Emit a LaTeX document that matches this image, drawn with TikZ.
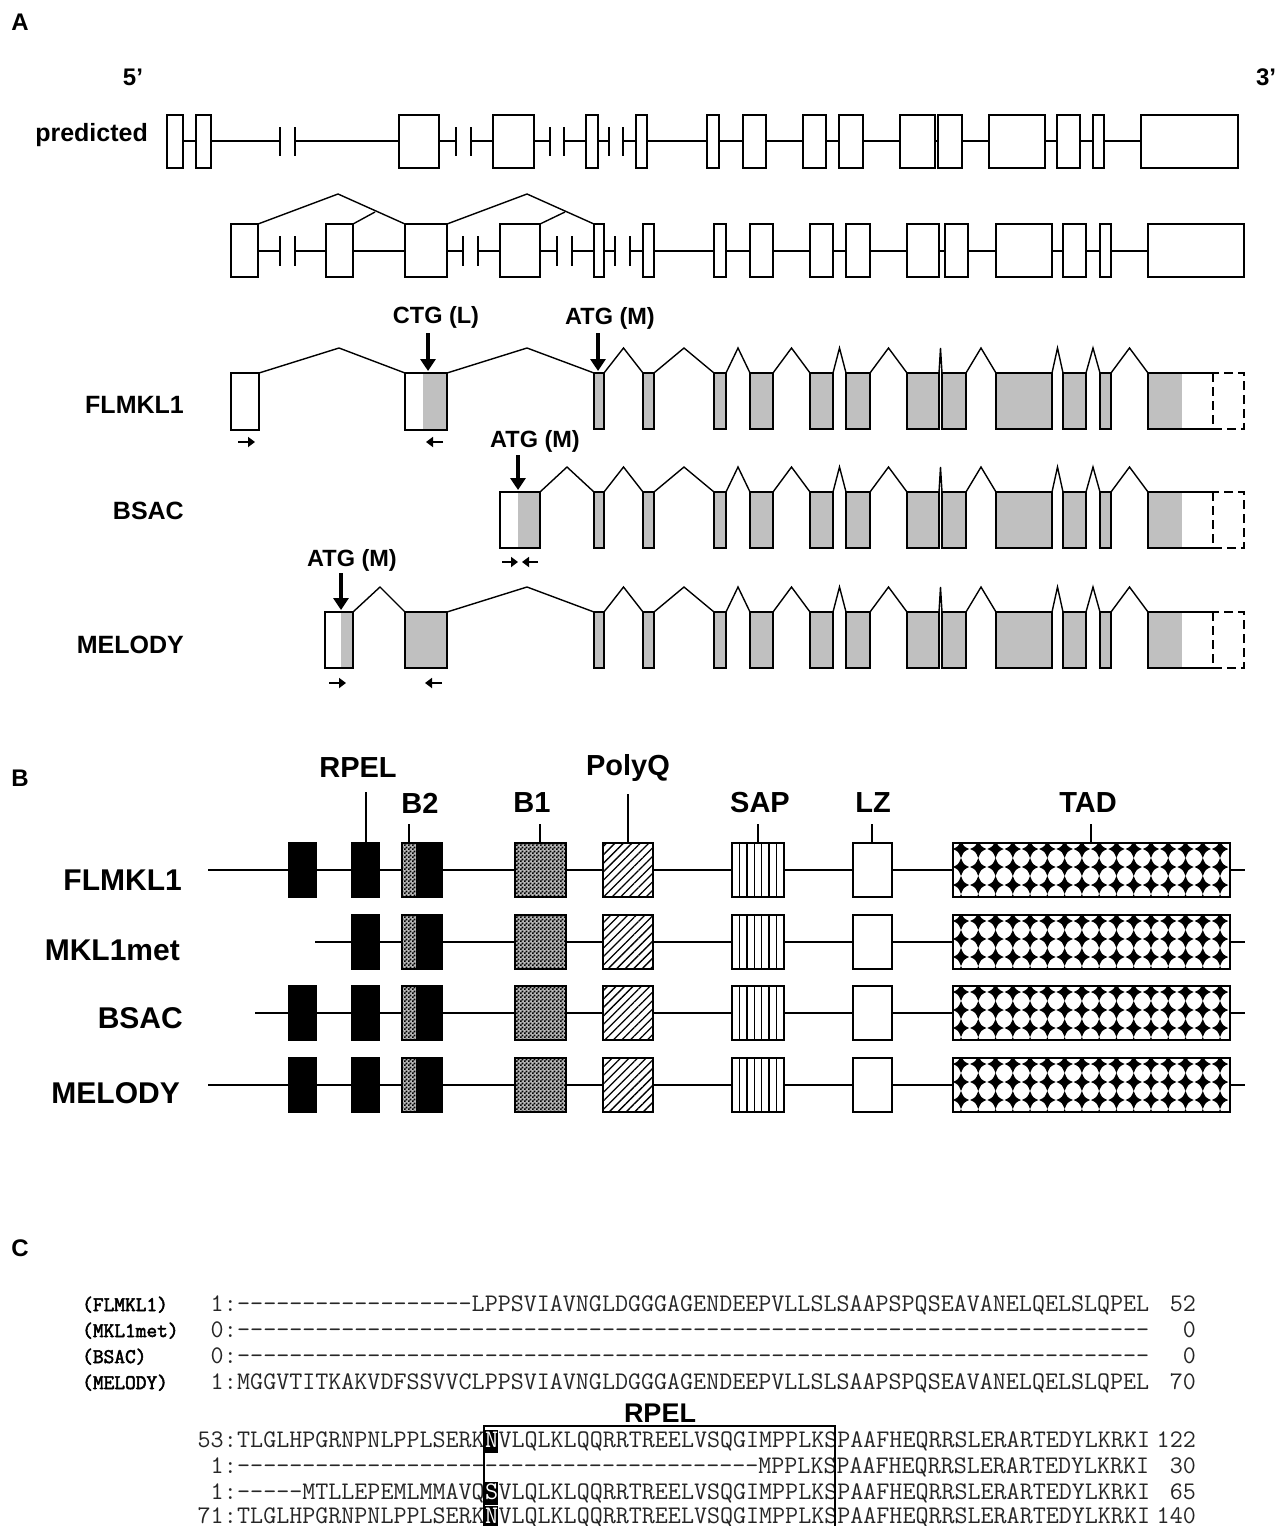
\documentclass[tikz,border=0pt]{standalone}
\usepackage{fontspec}
\setmainfont{Liberation Sans}
\newfontfamily\namefont{Latin Modern Mono}[FakeBold=2.5]
\usetikzlibrary{arrows.meta, positioning, patterns, patterns.meta}
\definecolor{cdsgray}{RGB}{192,192,192}
\ExplSyntaxOn
\NewDocumentCommand\dashrun{m}{\prg_replicate:nn{#1}{-{}}}
\ExplSyntaxOff
\pgfdeclarepatternformonly{finecheck}{\pgfqpoint{0pt}{0pt}}{\pgfqpoint{4pt}{4pt}}{\pgfqpoint{4pt}{4pt}}{%
  \pgfpathrectangle{\pgfqpoint{0pt}{0pt}}{\pgfqpoint{2pt}{2pt}}%
  \pgfpathrectangle{\pgfqpoint{2pt}{2pt}}{\pgfqpoint{2pt}{2pt}}%
  \pgfusepath{fill}}
\tikzset{
  outline/.style={draw, line width=2.4pt},
  exon/.style={outline, fill=white},
  intron/.style={line width=2pt},
  splice/.style={line width=1.4pt},
  brk/.style={line width=2.4pt},
  startarr/.style={-{Triangle[length=12pt,width=15pt]}, line width=4pt},
  primer/.style={-{Triangle[length=7pt,width=10pt]}, line width=2.6pt},
  panel/.style={font=\fontsize{24}{28}\selectfont\bfseries, inner sep=0pt},
  lab/.style={font=\fontsize{25}{30}\selectfont\bfseries, inner sep=0pt, anchor=east},
  sitelab/.style={font=\fontsize{23.5}{28}\selectfont\bfseries, inner sep=0pt},
  domlab/.style={font=\fontsize{29}{34}\selectfont\bfseries, inner sep=0pt},
  protlab/.style={font=\fontsize{30}{36}\selectfont\bfseries, inner sep=0pt, anchor=east},
  dom/.style={draw, line width=2.2pt, preaction={fill=white}},
  domline/.style={draw, line width=2.2pt},
  checkfill/.style={fill=gray!55, postaction={pattern=finecheck}},
  pline/.style={line width=2pt},
  seq/.style={font=\fontsize{25.3}{28}\selectfont\ttfamily, text=black!85, inner sep=0pt, anchor=base west},
  seqnum/.style={seq, anchor=base east},
  seqhl/.style={seq, fill=black, text=white, text height=17pt, text depth=6pt},
  seqname/.style={font=\fontsize{20.8}{24}\selectfont\namefont, inner sep=0pt, anchor=base west},
}

\begin{document}
\begin{tikzpicture}[x=1pt, y=-1pt]
  \fill[white] (0,0) rectangle (1278,1526);
  \useasboundingbox (0,0) rectangle (1278,1526);

  % ---------------- A: gene structure
  \node[panel] (pa) at (20,22) {A};
  \node[panel] (five) at (133,77) {5’};
  \node[panel] (three) at (1266,77) {3’};

  % predicted
  \node[lab] (lpred) at (148,135) {predicted};
  \foreach \xa/\xb in {183/280,295/456,471/550,564/609,623/1141}
    \draw[intron] (\xa,141) -- (\xb,141);
  \foreach \xa/\xb in {167/183,196/211,399/439,493/534,586/598,636/647,707/719,743/766,803/826,839/863,900/935,938/962,989/1045,1057/1080,1093/1104,1141/1238}
    \draw[exon] (\xa,115) rectangle (\xb,168);
  \foreach \x in {280,295,456,471,550,564,609,623}
    \draw[brk] (\x,127) -- (\x,156);

  % alternative first exons
  \foreach \xa/\xb in {258/280,295/463,478/557,572/615,630/1148}
    \draw[intron] (\xa,251) -- (\xb,251);
  \foreach \xa/\xb in {231/258,326/353,405/447,500/540,594/604,643/654,714/726,750/773,810/833,846/870,907/939,945/968,996/1052,1063/1086,1100/1111,1148/1244}
    \draw[exon] (\xa,224) rectangle (\xb,277);
  \foreach \x in {280,295,463,478,557,572,615,630}
    \draw[brk] (\x,236) -- (\x,266);
  \draw[splice] (258,224) -- (338,194) -- (405,224);
  \draw[splice] (353,224) -- (375,212);
  \draw[splice] (447,224) -- (527,194) -- (594,224);
  \draw[splice] (540,224) -- (565,212);

  % shared 3' part of the transcripts
  \foreach \yt in {373,492,612}{
    \foreach \xa/\xb in {594/604,643/654,714/726,750/773,810/833,846/870,907/939,942/966,996/1052,1063/1086,1100/1111}
      \draw[outline, fill=cdsgray] (\xa,\yt) rectangle (\xb,\yt+56);
    \foreach \xa/\xb in {604/643,654/714,726/750,773/810,833/846,870/907,939/942,966/996,1052/1063,1086/1100,1111/1148}
      \draw[splice] (\xa,\yt) -- ({(\xa+\xb)/2},\yt-25) -- (\xb,\yt);
    \fill[cdsgray] (1148,\yt) rectangle (1182,\yt+56);
    \draw[outline] (1213,\yt) -- (1148,\yt) -- (1148,\yt+56) -- (1213,\yt+56);
    \draw[outline, dash pattern=on 9pt off 5pt] (1213,\yt) rectangle (1244,\yt+56);
  }

  % FLMKL1
  \node[lab] (lfl) at (184,405) {FLMKL1};
  \draw[exon] (231,373) rectangle (259,430);
  \fill[cdsgray] (423,373) rectangle (447,430);
  \draw[outline] (405,373) rectangle (447,430);
  \draw[splice] (259,373) -- (339,348) -- (405,373);
  \draw[splice] (447,373) -- (527,348) -- (594,373);
  \node[sitelab] (ctg) at (436,317) {CTG (L)};
  \draw[startarr] (428,333) -- (428,371);
  \node[sitelab] (atg1) at (610,318) {ATG (M)};
  \draw[startarr] (598,333) -- (598,371);
  \draw[primer] (238,442) -- (255,442);
  \draw[primer] (443,442) -- (426,442);

  % BSAC
  \node[lab] (lbs) at (184,511) {BSAC};
  \fill[cdsgray] (518,492) rectangle (540,548);
  \draw[outline] (500,492) rectangle (540,548);
  \draw[splice] (540,492) -- (567,467) -- (594,492);
  \node[sitelab] (atg2) at (535,441) {ATG (M)};
  \draw[startarr] (518,455) -- (518,490);
  \draw[primer] (502,562) -- (518,562);
  \draw[primer] (538,562) -- (522,562);

  % MELODY
  \node[lab] (lme) at (184,645) {MELODY};
  \fill[cdsgray] (341,612) rectangle (353,668);
  \draw[outline] (325,612) rectangle (353,668);
  \draw[outline, fill=cdsgray] (405,612) rectangle (447,668);
  \draw[splice] (353,612) -- (380,587) -- (405,612);
  \draw[splice] (447,612) -- (527,587) -- (594,612);
  \node[sitelab] (atg3) at (352,560) {ATG (M)};
  \draw[startarr] (341,573) -- (341,610);
  \draw[primer] (329,683) -- (346,683);
  \draw[primer] (442,683) -- (425,683);

  % ---------------- B: protein domains
  \node[panel] (pb) at (20,778) {B};
  \node[domlab] (drpel) at (358,768) {RPEL};
  \node[domlab] (db2) at (420,803) {B2};
  \node[domlab] (db1) at (532,803) {B1};
  \node[domlab] (dpq) at (628,768) {PolyQ};
  \node[domlab] (dsap) at (760,803) {SAP};
  \node[domlab] (dlz) at (873,803) {LZ};
  \node[domlab] (dtad) at (1088,803) {TAD};
  \draw[pline] (366,792) -- (366,843);
  \foreach \x in {409,540,758,872,1091}
    \draw[pline] (\x,824) -- (\x,843);
  \draw[pline] (628,794) -- (628,843);

  \node[protlab] (pfl) at (182,880) {FLMKL1};
  \node[protlab] (pmet) at (180,950) {MKL1met};
  \node[protlab] (pbs) at (183,1018) {BSAC};
  \node[protlab] (pme) at (180,1093) {MELODY};

  \foreach \yc/\xs/\full in {870/208/1,942/315/0,1013/255/1,1085/208/1}{
    \draw[pline] (\xs,\yc) -- (1245,\yc);
    \ifnum\full=1 \draw[dom, fill=black] (289,\yc-27) rectangle (316,\yc+27); \fi
    \draw[dom, fill=black] (352,\yc-27) rectangle (379,\yc+27);
    \fill[black] (416,\yc-27) rectangle (442,\yc+27);
    \fill[checkfill] (402,\yc-27) rectangle (416,\yc+27);
    \draw[domline] (402,\yc-27) rectangle (442,\yc+27);
    \fill[checkfill] (515,\yc-27) rectangle (566,\yc+27);
    \draw[domline] (515,\yc-27) rectangle (566,\yc+27);
    \draw[dom, pattern={Lines[angle=45, distance=6pt, line width=1.3pt]}] (603,\yc-27) rectangle (653,\yc+27);
    \draw[dom] (732,\yc-27) rectangle (784,\yc+27);
    \foreach \k in {1,...,6}
      \draw[line width=1.5pt] (732+\k*7.43,\yc-27) -- (732+\k*7.43,\yc+27);
    \draw[dom] (853,\yc-27) rectangle (892,\yc+27);
    \draw[dom] (953,\yc-27) rectangle (1230,\yc+27);
    \begin{scope}
      \clip (953,\yc-27) rectangle (1230,\yc+27);
      \foreach \i in {0,...,15}
        \foreach \j in {0,...,3}
          \fill[shift={({961+\i*17.27},{\yc-21+\j*18})}] (0,-9) .. controls (2.6,-2.6) .. (8.2,0) .. controls (2.6,2.6) .. (0,9) .. controls (-2.6,2.6) .. (-8.2,0) .. controls (-2.6,-2.6) .. cycle;
    \end{scope}
    \draw[line width=2.2pt] (953,\yc-27) rectangle (1230,\yc+27);
  }

  % ---------------- C: alignment
  \node[panel] (pc) at (20,1248) {C};

  \node[seqname] (nfl) at (82,1311) {(FLMKL1)};
  \node[seqname] (nmet) at (82,1337) {(MKL1met)};
  \node[seqname] (nbs) at (82,1363) {(BSAC)};
  \node[seqname] (nme) at (82,1389) {(MELODY)};

  \node[seqnum] (sfl) at (237,1311) {1:};
  \node[seq] (qfl) at (sfl.base east) {\dashrun{18}LPPSVIAVNGLDGGGAGENDEEPVLLSLSAAPSPQSEAVANELQELSLQPEL};
  \node[seqnum] (efl) at (1196,1311) {52};
  \node[seqnum] (smet) at (237,1337) {0:};
  \node[seq] (qmet) at (smet.base east) {\dashrun{70}};
  \node[seqnum] (emet) at (1196,1337) {0};
  \node[seqnum] (sbs) at (237,1363) {0:};
  \node[seq] (qbs) at (sbs.base east) {\dashrun{70}};
  \node[seqnum] (ebs) at (1196,1363) {0};
  \node[seqnum] (sme) at (237,1389) {1:};
  \node[seq] (qme) at (sme.base east) {MGGVTITKAKVDFSSVVCLPPSVIAVNGLDGGGAGENDEEPVLLSLSAAPSPQSEAVANELQELSLQPEL};
  \node[seqnum] (eme) at (1196,1389) {70};

  \node[seqnum] (s2fl) at (237,1447) {53:};
  \node[seq] (a2fl) at (s2fl.base east) {TLGLHPGRNPNLPPLSERK};
  \node[seqhl] (h2fl) at (a2fl.base east) {N};
  \node[seq] (b2fl) at (h2fl.base east) {VLQLKLQQRRTREELVSQGIMPPLKSPAAFHEQRRSLERARTEDYLKRKI};
  \node[seqnum] (e2fl) at (1196,1447) {122};

  \node[seqnum] (s2met) at (237,1473) {1:};
  \node[seq] (a2met) at (s2met.base east) {\dashrun{40}MPPLKSPAAFHEQRRSLERARTEDYLKRKI};
  \node[seqnum] (e2met) at (1196,1473) {30};

  \node[seqnum] (s2bs) at (237,1499) {1:};
  \node[seq] (a2bs) at (s2bs.base east) {\dashrun{5}MTLLEPEMLMMAVQ};
  \node[seqhl] (h2bs) at (a2bs.base east) {S};
  \node[seq] (b2bs) at (h2bs.base east) {VLQLKLQQRRTREELVSQGIMPPLKSPAAFHEQRRSLERARTEDYLKRKI};
  \node[seqnum] (e2bs) at (1196,1499) {65};

  \node[seqnum] (s2me) at (237,1523) {71:};
  \node[seq] (a2me) at (s2me.base east) {TLGLHPGRNPNLPPLSERK};
  \node[seqhl] (h2me) at (a2me.base east) {N};
  \node[seq] (b2me) at (h2me.base east) {VLQLKLQQRRTREELVSQGIMPPLKSPAAFHEQRRSLERARTEDYLKRKI};
  \node[seqnum] (e2me) at (1196,1523) {140};

  \draw[line width=1.3pt] (484,1540) -- (484,1426) -- (835,1426) -- (835,1540);
  \node[font=\fontsize{27}{32}\selectfont\bfseries, inner sep=0pt] (crpel) at (660,1413) {RPEL};
\end{tikzpicture}
\end{document}
